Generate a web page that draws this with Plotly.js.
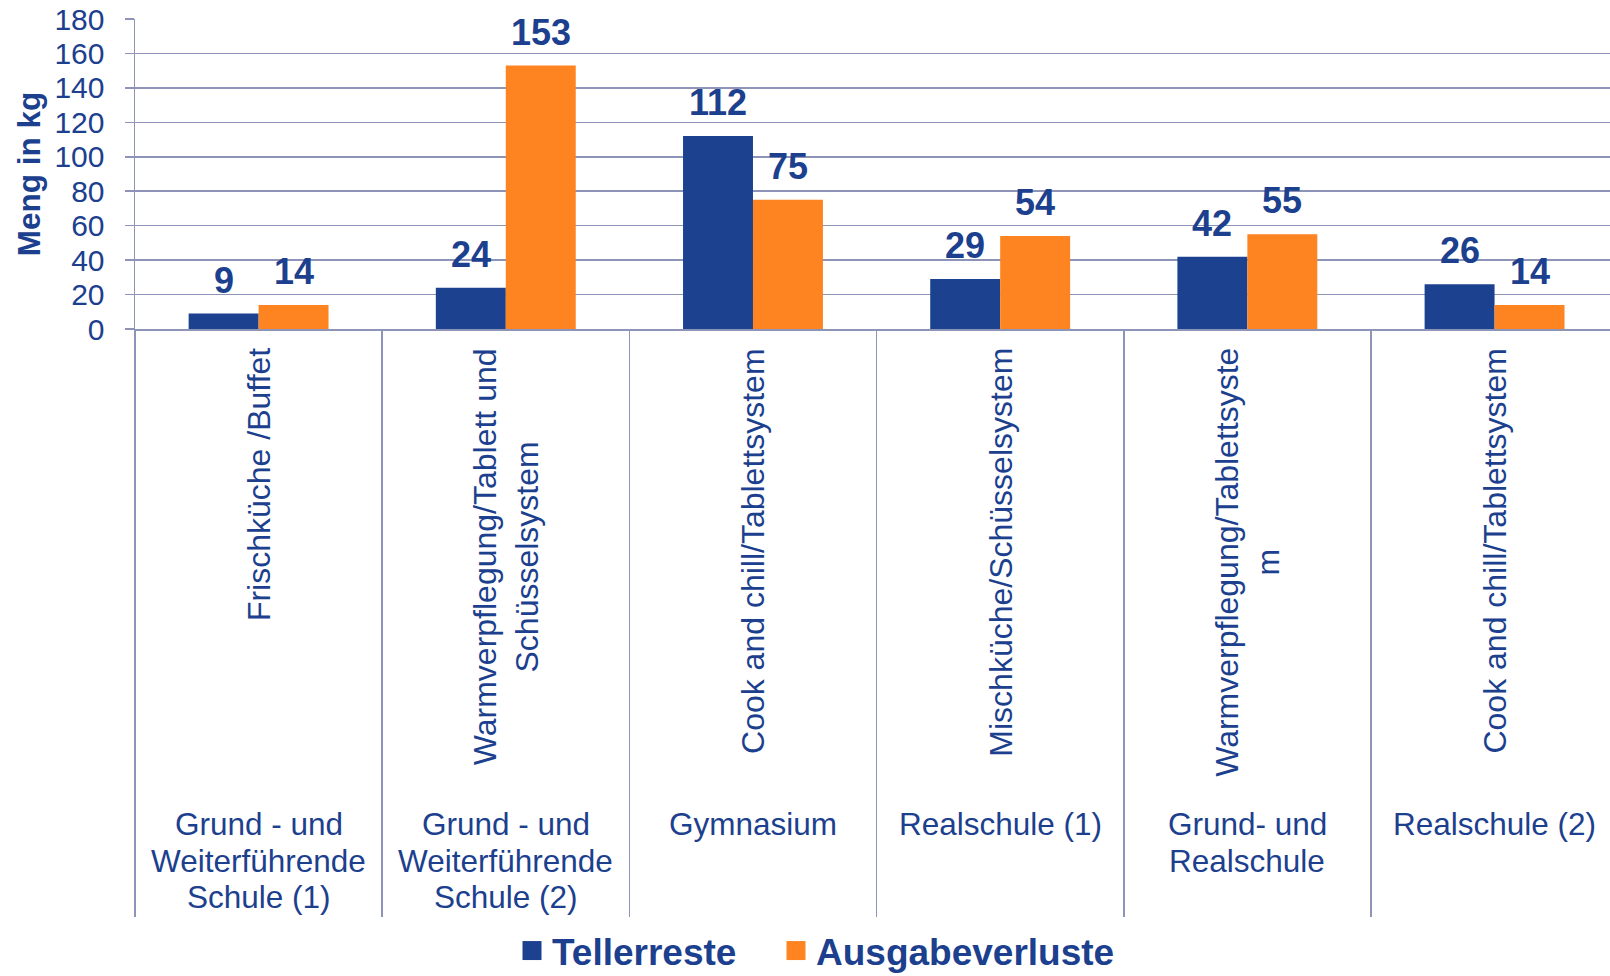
<!DOCTYPE html>
<html>
<head>
<meta charset="utf-8">
<script src="https://cdn.plot.ly/plotly-3.0.1.min.js"></script>
<style>html,body{margin:0;padding:0;background:#fff;overflow:hidden}</style>
</head>
<body>
<div id="chart" style="width:1610px;height:976px"></div>
<script>
// ---- data ----
const schools = ["Grund - und<br>Weiterführende<br>Schule (1)", "Grund - und<br>Weiterführende<br>Schule (2)", "Gymnasium", "Realschule (1)", "Grund- und<br>Realschule", "Realschule (2)"];
const systems = ["Frischküche /Buffet", "Warmverpflegung/Tablett und<br>Schüsselsystem", "Cook and chill/Tablettsystem", "Mischküche/Schüsselsystem", "Warmverpflegung/Tablettsyste<br>m", "Cook and chill/Tablettsystem"];
const tellerreste = [9, 24, 112, 29, 42, 26];
const ausgabeverluste = [14, 153, 75, 54, 55, 14];
const seriesNames = ["Tellerreste", "Ausgabeverluste"];
const yTicks = [0, 20, 40, 60, 80, 100, 120, 140, 160, 180];
const yTitle = "Meng in kg";

// ---- layout helpers ----
const W = 1610, H = 976, mL = 135, mT = 19, mB = 647;
const plotH = H - mT - mB;
function py(px) { return (H - mB - px) / plotH; }
function px2x(px) { return (px - mL) / (W - mL); }

const BLUE = '#1c418e', ORANGE = '#fd8421', TEXT = '#1c3f8e', GRID = '#8d94b8';
const FONT = '"Liberation Sans", Arial, sans-serif';
const barPx = 70;

const traces = [
  {type: 'bar', name: seriesNames[0], x: schools, y: tellerreste, marker: {color: BLUE}, legend: 'legend'},
  {type: 'bar', name: seriesNames[1], x: schools, y: ausgabeverluste, marker: {color: ORANGE}, legend: 'legend2'}
];

const annotations = [];
[tellerreste, ausgabeverluste].forEach((vals, s) => vals.forEach((v, i) => annotations.push({
  x: schools[i], y: v, xref: 'x', yref: 'y', text: String(v), showarrow: false,
  xshift: (s === 0 ? -1 : 1) * barPx / 2, yshift: 11, yanchor: 'bottom', xanchor: 'center',
  font: {family: FONT, size: 36, color: TEXT, weight: 'bold'}
})));
systems.forEach((t, i) => annotations.push({
  x: schools[i], xref: 'x', y: py(346), yref: 'paper', text: t, textangle: -90,
  xanchor: 'center', yanchor: 'top', align: 'center', showarrow: false,
  font: {family: FONT, size: 32, color: TEXT}
}));
const lineStep = 36.5;
schools.forEach((t, i) => t.split('<br>').forEach((line, k) => annotations.push({
  x: schools[i], xref: 'x', y: py(824 + k * lineStep), yref: 'paper', text: line,
  xanchor: 'center', yanchor: 'middle', align: 'center', showarrow: false,
  font: {family: FONT, size: 31.5, color: TEXT}
})));

const legendBase = {
  orientation: 'h', xanchor: 'left', yref: 'container', y: (H - 951) / H, yanchor: 'middle',
  font: {family: FONT, size: 37, color: TEXT, weight: 'bold'}, bgcolor: 'rgba(0,0,0,0)'
};

const layout = {
  width: W, height: H,
  margin: {l: mL, r: 0, t: mT, b: mB, pad: 0},
  paper_bgcolor: '#ffffff', plot_bgcolor: '#ffffff',
  barmode: 'group', bargap: 0.434, bargroupgap: 0,
  font: {family: FONT, color: TEXT},
  showlegend: true,
  xaxis: {
    type: 'category', range: [-0.5, 5.467], showticklabels: false,
    ticks: 'outside', tickson: 'boundaries', ticklen: 586, tickwidth: 1.5, tickcolor: GRID,
    showline: true, linecolor: GRID, linewidth: 1.5, showgrid: false, zeroline: false,
    automargin: false, fixedrange: true
  },
  yaxis: {
    range: [0, 180], tickvals: yTicks, ticktext: yTicks.map(String),
    ticks: 'outside', ticklen: 9, tickwidth: 1.5, tickcolor: GRID,
    showline: true, linecolor: GRID, linewidth: 1.5,
    showgrid: true, gridcolor: GRID, gridwidth: 1.5, zeroline: false,
    tickfont: {family: FONT, size: 30, color: TEXT}, ticklabelstandoff: 14,
    title: {text: yTitle, font: {family: FONT, size: 31.5, color: TEXT, weight: 'bold'}, standoff: 4},
    automargin: false, fixedrange: true
  },
  legend: Object.assign({}, legendBase, {x: px2x(512)}),
  legend2: Object.assign({}, legendBase, {x: px2x(776)}),
  annotations: annotations
};

Plotly.newPlot('chart', traces, layout, {displayModeBar: false, staticPlot: true}).then(() => {
  // enlarge legend squares to match the reference swatch size
  document.querySelectorAll('#chart .legendpoints path').forEach(p => p.setAttribute('d', 'M9.5,9.5H-9.5V-9.5H9.5Z'));
});
</script>
</body>
</html>
